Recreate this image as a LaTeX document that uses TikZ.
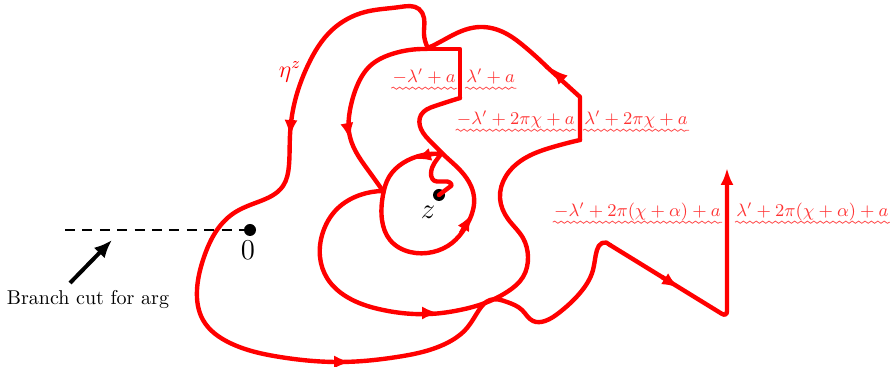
\documentclass[tikz,border=0pt]{standalone}
\usetikzlibrary{arrows.meta,decorations.pathmorphing,hobby}
\tikzset{
  curve/.style={red, line width=2.2pt, line cap=round, line join=round, use Hobby shortcut},
  rtip/.style={red, line width=2.2pt, -{Latex[length=8.5pt,width=6.5pt]}},
  dotnode/.style={circle, fill=black, inner sep=0pt, minimum size=6pt},
  wlbl/.style={text=red!80, font=\small, inner sep=0.5pt},
  wavy/.style={red!70, line width=0.4pt, decorate, decoration={snake, amplitude=0.55pt, segment length=3.2pt}},
}
\begin{document}
\begin{tikzpicture}[x=0.5pt,y=-0.5pt]
\useasboundingbox (0,0) rectangle (895,367);

% points
\node[dotnode] (zero) at (250,230) {};
\node[dotnode] (zpt) at (439,195) {};
\node[font=\Large] (zerolbl) at (248,250) {$0$};
\node[font=\Large] (zlbl) at (428,212) {$z$};
\node[text=red, font=\large] (eta) at (290,72) {$\eta^z$};

% branch cut
\coordinate (cutstart) at (65,230);
\draw[line width=1.2pt, dash pattern=on 5pt off 3.7pt] (cutstart) -- (zero.center);
\node (cutlbl) at (88,300) {Branch cut for arg};
\coordinate (cuttail) at (70,283);
\coordinate (cuttip) at (112,240);
\draw[line width=2pt, -{Latex[length=9pt,width=7.5pt]}] (cuttail) -- (cuttip);

% wiggle from z
\draw[red, line width=2.2pt, line cap=round, line join=round]
  (zpt.center) -- (451,186) to[out=35,in=0] (447,181.5) -- (437,181.5)
  to[out=180,in=-95] (431,173) to[out=85,in=-125] (441,154);
% inner loop
\draw[curve] (441,154) .. (423,155) .. (403,163) .. (389,177) .. (383,195) .. (382,220) .. (390,240) .. (410,252) .. (433,252) .. (452,243) .. (465,228) .. (473,210) .. (474,197) .. (469,182) .. (458,168) .. (445,156) .. (432,143) .. (421,129) .. (421,115) .. (435,106) .. (460,98);
% first step
\draw[curve] (460,98) -- (460,49) -- (427,49);
% inner-left descent
\draw[curve] (427,49) .. (392,54) .. (370,66) .. (357,86) .. (350,110) .. (349,132) .. (356,152) .. (368,170) .. (383,191);
% middle loop
\draw[curve] (383,191) .. (360,195) .. (337,209) .. (323,232) .. (320,257) .. (327,278) .. (347,297) .. (383,310) .. (430,314) .. (460,310) .. (485,303) .. (507,292) .. (523,277) .. (528,257) .. (523,238) .. (508,219) .. (500,198) .. (506,176) .. (527,157) .. (553,147) .. (580,140);
% second step
\draw[curve] (580,140) -- (580,97) -- (547,67);
\draw[curve] (547,67) .. (525,47) .. (505,33) .. (480,27) .. (457,33) .. (440,42) .. (428,48);
% outer loop
\draw[curve] (428,48) .. (424,34) .. (424,18) .. (419,9) .. (400,7) .. (365,12) .. (332,30) .. (308,65) .. (294,105) .. (290,135) .. (289,165) .. (283,186) .. (258,202) .. (234,213) .. (217,230) .. (204,257) .. (197,290) .. (203,320) .. (230,343) .. (280,357) .. (340,362) .. (397,357) .. (445,344) .. (467,328) .. (479,310) .. (490,300) .. (507,302) .. (522,310) .. (533,321) .. (545,321) .. (560,312) .. (580,293) .. (593,270) .. (597,250) .. (602,243) .. (610,245);
\coordinate (endpt) at (727,168);
\draw[red, line width=2.2pt, line cap=round, rtip, rounded corners=3pt] (610,245) -- (727,317) -- (endpt);

% mid-path arrowheads
\draw[rtip] (291,120) -- (290,137);
\draw[rtip] (347,124) -- (350,140);
\draw[rtip] (432,154) -- (414,159);
\draw[rtip] (461,233) -- (472,214);
\draw[rtip] (422,313) -- (439,313);
\draw[rtip] (563,80) -- (551,68);
\draw[rtip] (333,362) -- (351,362);
\draw[rtip] (662,277) -- (679,288);

% labels
\node[wlbl, anchor=base east] (l1) at (457,83) {$-\lambda'+a$};
\node[wlbl, anchor=base west] (l2) at (465,83) {$\lambda'+a$};
\node[wlbl, anchor=base east] (l3) at (576,125) {$-\lambda'+2\pi\chi+a$};
\node[wlbl, anchor=base west] (l4) at (583,125) {$\lambda'+2\pi\chi+a$};
\node[wlbl, anchor=base east] (l5) at (722,217) {$-\lambda'+2\pi(\chi+\alpha)+a$};
\node[wlbl, anchor=base west] (l6) at (735,217) {$\lambda'+2\pi(\chi+\alpha)+a$};
\foreach \l in {l1,l2,l3,l4,l5,l6}
  \draw[wavy] ([yshift=-2.6pt]\l.base west) -- ([yshift=-2.6pt]\l.base east);
\end{tikzpicture}
\end{document}
